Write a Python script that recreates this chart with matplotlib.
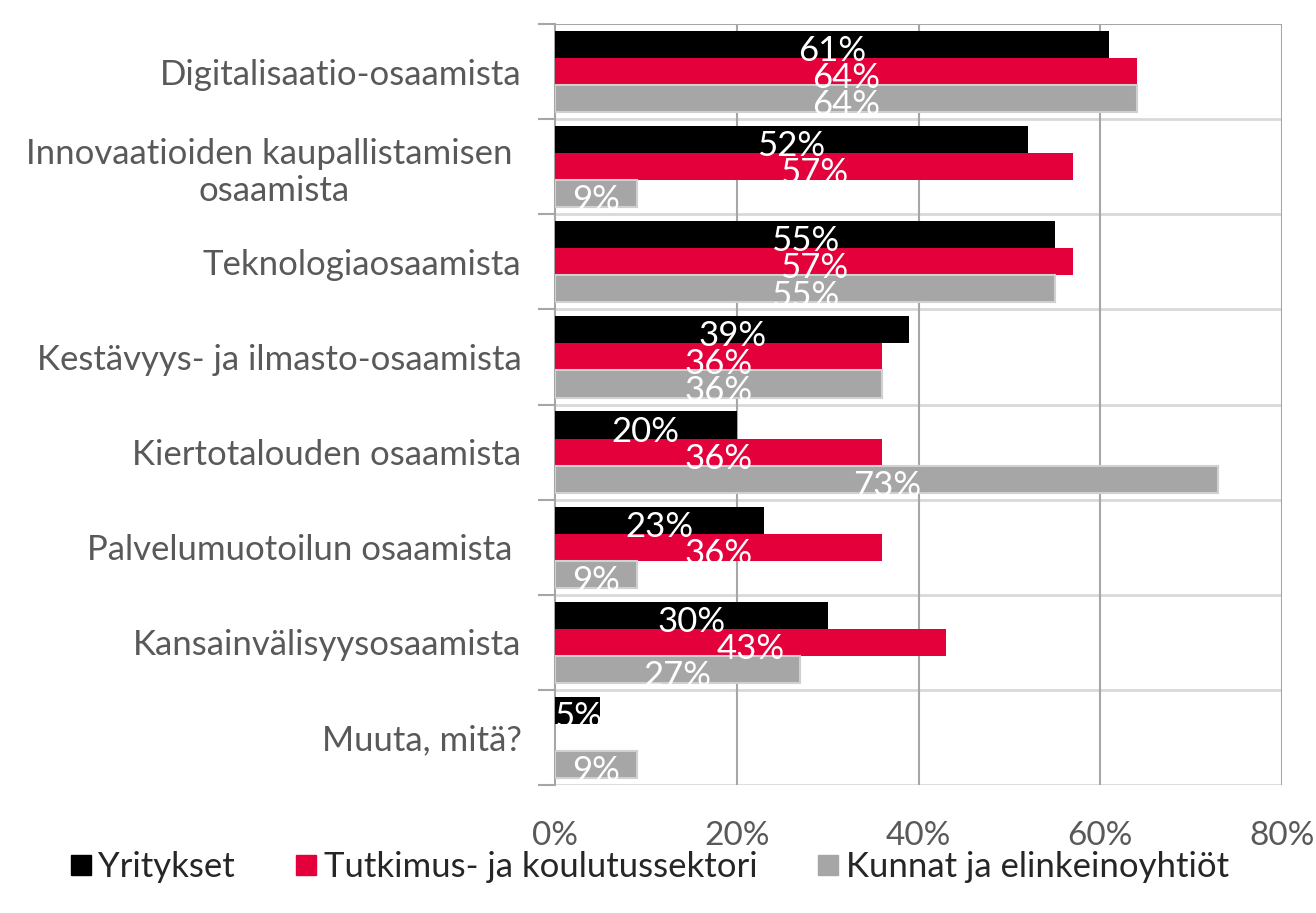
import matplotlib.pyplot as plt
import numpy as np

plt.rcParams['font.family'] = ['Lato', 'DejaVu Sans']

categories = ['Digitalisaatio-osaamista',
              'Innovaatioiden kaupallistamisen \nosaamista',
              'Teknologiaosaamista',
              'Kestävyys- ja ilmasto-osaamista',
              'Kiertotalouden osaamista',
              'Palvelumuotoilun osaamista ',
              'Kansainvälisyysosaamista',
              'Muuta, mitä?']
series = ['Yritykset', 'Tutkimus- ja koulutussektori', 'Kunnat ja elinkeinoyhtiöt']
yritykset = [61, 52, 55, 39, 20, 23, 30, 5]
tutkimus = [64, 57, 57, 36, 36, 36, 43, 0]
kunnat = [64, 9, 55, 36, 73, 9, 27, 9]
colors = ['#000000', '#e4003a', '#a6a6a6']
xticks = [0, 20, 40, 60, 80]

fig = plt.figure(figsize=(13.16, 9.13), dpi=100)
ax = fig.add_axes([0.4217, 0.1402, 0.5525, 0.8335])

y = np.arange(len(categories))
h = 0.285
for i, (vals, col) in enumerate(zip([yritykset, tutkimus, kunnat], colors)):
    pos = y + (i - 1) * h
    edge = '#d0d0d0' if i == 2 else col
    lw = 1.5 if i == 2 else 0
    ax.barh(pos, vals, height=h, color=col, edgecolor=edge, linewidth=lw,
            label=series[i], zorder=3)
    for p, v in zip(pos, vals):
        if v == 0:
            continue
        ax.text(v / 2, p + 0.07, f'{v}%', ha='center', va='center', color='white',
                fontsize=25, zorder=4)

ax.set_xlim(0, 80)
ax.set_ylim(len(categories) - 0.5, -0.5)

# separators between categories
for k in range(1, len(categories) + 1):
    ax.axhline(k - 0.5, color='#d9d9d9', lw=2, zorder=1)
ax.axhline(-0.5, color='#a6a6a6', lw=1.5, zorder=2)

for xv in xticks[1:]:
    ax.axvline(xv, color='#a6a6a6', lw=1.5, zorder=1)

for s in ['top', 'right', 'bottom']:
    ax.spines[s].set_visible(False)
ax.spines['left'].set_color('#a6a6a6')
ax.spines['left'].set_linewidth(1.5)

ax.set_xticks(xticks)
ax.set_xticklabels([f'{v}%' for v in xticks])
ax.tick_params(axis='x', length=0, pad=26, labelsize=24, labelcolor='#595959')

ax.set_yticks(y)
ax.set_yticklabels(categories)
ax.set_yticks(np.arange(len(categories) + 1) - 0.5, minor=True)
ax.tick_params(axis='y', which='major', length=0, pad=24, labelsize=25, labelcolor='#595959')
ax.tick_params(axis='y', which='minor', length=12, width=1.5, color='#a6a6a6')
for lab in ax.get_yticklabels():
    lab.set_multialignment('center')

handles = [plt.Line2D([], [], marker='s', linestyle='none', markersize=15,
                      markerfacecolor=c, markeredgecolor=c) for c in colors]
fig.legend(handles, series, loc='center', bbox_to_anchor=(0.493, 0.05), ncol=3,
           frameon=False, fontsize=25, handlelength=0.7, handletextpad=0.15,
           columnspacing=1.7, labelcolor='#262626')

fig.savefig('out.png', dpi=100)
